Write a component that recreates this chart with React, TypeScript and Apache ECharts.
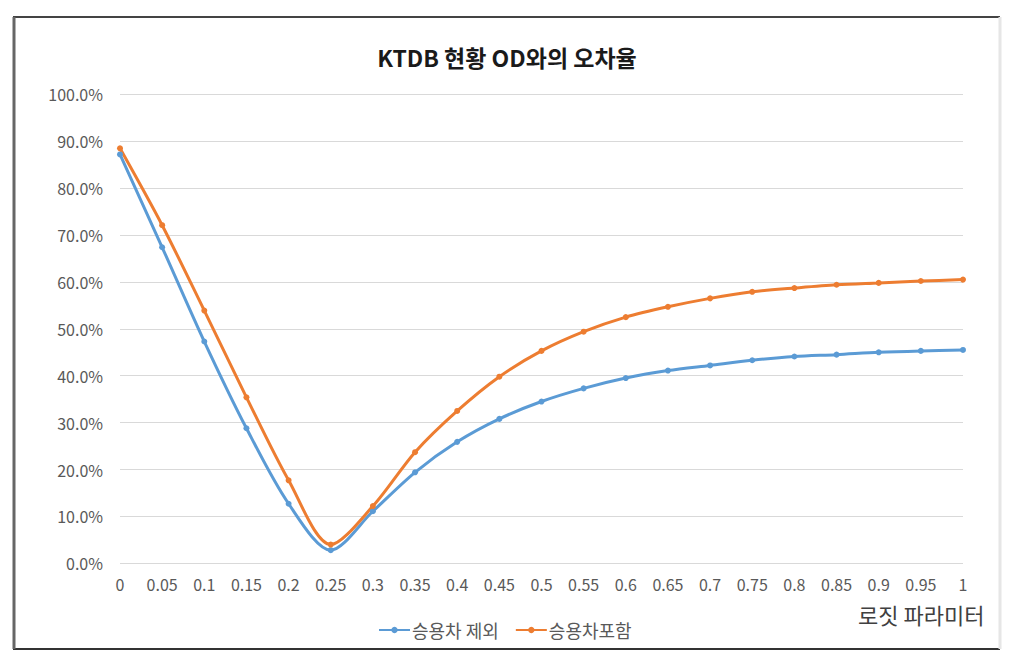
import React, { useEffect, useRef } from "react";
import * as echarts from "echarts";

const categories = ["0", "0.05", "0.1", "0.15", "0.2", "0.25", "0.3", "0.35", "0.4", "0.45", "0.5", "0.55", "0.6", "0.65", "0.7", "0.75", "0.8", "0.85", "0.9", "0.95", "1"];
const excludeCar = [87.2, 67.4, 47.3, 28.8, 12.7, 2.8, 11.1, 19.4, 25.9, 30.8, 34.5, 37.3, 39.5, 41.1, 42.2, 43.3, 44.1, 44.5, 45.0, 45.3, 45.5];
const includeCar = [88.5, 72.1, 53.9, 35.4, 17.7, 4.0, 12.2, 23.7, 32.5, 39.8, 45.3, 49.4, 52.5, 54.7, 56.5, 57.9, 58.7, 59.4, 59.8, 60.2, 60.5];
const seriesNames = ["승용차 제외", "승용차포함"];
const titleText = "KTDB 현황 OD와의 오차율";
const xAxisTitle = "로짓 파라미터";

const FONT = "'Noto Sans CJK KR', 'Noto Sans', sans-serif";

export default function App() {
  const ref = useRef<HTMLDivElement>(null);
  useEffect(() => {
    if (!ref.current) return;
    const chart = echarts.init(ref.current, null, { renderer: "svg" });
    chart.setOption({
      animation: false,
      backgroundColor: "#ffffff",
      textStyle: { fontFamily: FONT },
      title: {
        text: titleText,
        left: 502,
        textAlign: "center",
        top: 40,
        textStyle: { fontFamily: FONT, fontSize: 23, fontWeight: "bold", color: "#1a1a1a" },
      },
      grid: { left: 120, right: 50, top: 94.4, bottom: 94.7, containLabel: false },
      xAxis: {
        type: "category",
        data: categories,
        boundaryGap: false,
        axisLine: { show: false },
        axisTick: { show: false },
        axisLabel: { color: "#595959", fontSize: 16, margin: 13, fontFamily: FONT },
      },
      yAxis: {
        type: "value",
        min: 0,
        max: 100,
        interval: 10,
        axisLine: { show: false },
        axisTick: { show: false },
        axisLabel: {
          color: "#595959",
          fontSize: 16,
          margin: 17,
          fontFamily: FONT,
          formatter: (v: number) => v.toFixed(1) + "%",
        },
        splitLine: { lineStyle: { color: "#d9d9d9", width: 1 } },
      },
      legend: {
        data: seriesNames,
        left: 373,
        top: 616,
        itemWidth: 31,
        itemHeight: 8,
        itemGap: 16,
        textStyle: { color: "#595959", fontSize: 18, fontFamily: FONT, padding: [0, 0, 0, -3] },
      },
      series: [
        {
          name: seriesNames[0],
          type: "line",
          data: excludeCar,
          smooth: 0.3,
          symbol: "circle",
          symbolSize: 6,
          lineStyle: { color: "#5B9BD5", width: 3 },
          itemStyle: { color: "#5B9BD5" },
        },
        {
          name: seriesNames[1],
          type: "line",
          data: includeCar,
          smooth: 0.3,
          symbol: "circle",
          symbolSize: 6,
          lineStyle: { color: "#ED7D31", width: 3 },
          itemStyle: { color: "#ED7D31" },
        },
      ],
      graphic: [
        { type: "line", shape: { x1: 13, y1: 17, x2: 1000, y2: 17 }, style: { stroke: "#444", lineWidth: 2 } },
        { type: "line", shape: { x1: 13, y1: 649, x2: 1000, y2: 649 }, style: { stroke: "#333", lineWidth: 2 } },
        { type: "line", shape: { x1: 14, y1: 17, x2: 14, y2: 649 }, style: { stroke: "#666", lineWidth: 3 } },
        { type: "line", shape: { x1: 1000, y1: 17, x2: 1000, y2: 649 }, style: { stroke: "#e6e6e6", lineWidth: 3 } },
        {
          type: "text",
          left: 858,
          top: 603,
          style: { text: xAxisTitle, fontSize: 22, fill: "#404040", fontFamily: FONT },
        },
      ],
    });
    return () => chart.dispose();
  }, []);
  return <div ref={ref} style={{ position: "fixed", left: 0, top: 0, width: 1013, height: 658 }} />;
}
